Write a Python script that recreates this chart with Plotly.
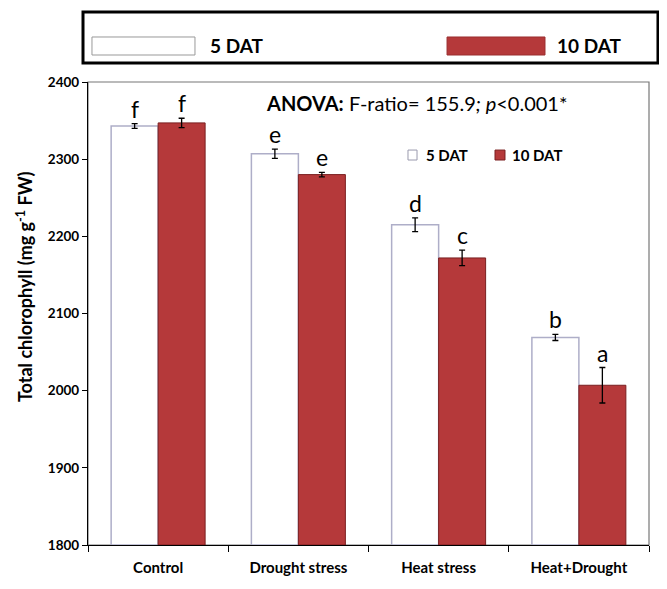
import plotly.graph_objects as go

categories = ["Control", "Drought stress", "Heat stress", "Heat+Drought"]
dat5 = [2343, 2307, 2215, 2069]
dat5_err = [3, 6, 9, 4]
dat10 = [2347, 2280, 2172, 2007]
dat10_err = [6, 3, 10, 23]
letters5 = ["f", "e", "d", "b"]
letters10 = ["f", "e", "c", "a"]
yticks = [1800, 1900, 2000, 2100, 2200, 2300, 2400]

FONT = "Lato"
RED = "#b5393a"

fig = go.Figure()
fig.add_trace(go.Bar(
    x=categories, y=[v - 1800 for v in dat5], base=1800, name="5 DAT",
    marker=dict(color="white", line=dict(color="#aeaec8", width=1.5)),
    error_y=dict(type="data", array=dat5_err, color="black", thickness=1.3, width=3),
))
fig.add_trace(go.Bar(
    x=categories, y=[v - 1800 for v in dat10], base=1800, name="10 DAT",
    marker=dict(color=RED, line=dict(color="#7a1f20", width=1)),
    error_y=dict(type="data", array=dat10_err, color="black", thickness=1.3, width=3),
))

# significance letters
for i, c in enumerate(categories):
    fig.add_annotation(x=c, y=dat5[i] + dat5_err[i], text=letters5[i], xref="x", yref="y",
                       xshift=-23.5, yshift=15, showarrow=False,
                       font=dict(family=FONT, size=23, color="black"))
    fig.add_annotation(x=c, y=dat10[i] + dat10_err[i], text=letters10[i], xref="x", yref="y",
                       xshift=23.5, yshift=15, showarrow=False,
                       font=dict(family=FONT, size=23, color="black"))

fig.add_annotation(x=0.585, y=0.955, xref="paper", yref="paper", showarrow=False,
                   xanchor="center", yanchor="middle",
                   text="<b>ANOVA:</b> F-ratio= 155.9<i>; p</i><0.001*",
                   font=dict(family=FONT, size=20, color="black"))

# y-axis title
fig.add_annotation(x=-0.1125, y=0.559, xref="paper", yref="paper", showarrow=False,
                   xanchor="center", yanchor="middle", textangle=-90,
                   text="<b>Total chlorophyll (mg g<sup>-1</sup> FW)</b>",
                   font=dict(family=FONT, size=18, color="black"))

# inner legend
fig.add_shape(type="rect", xref="paper", yref="paper", x0=0.5704, x1=0.5865, y0=0.8315, y1=0.853,
              line=dict(color="#9a9aae", width=1), fillcolor="white")
fig.add_shape(type="rect", xref="paper", yref="paper", x0=0.7255, x1=0.7433, y0=0.8315, y1=0.853,
              line=dict(color="#7a1f20", width=1), fillcolor=RED)
fig.add_annotation(x=0.599, y=0.842, xref="paper", yref="paper", showarrow=False,
                   xanchor="left", yanchor="middle", text="<b>5 DAT</b>",
                   font=dict(family=FONT, size=15, color="black"))
fig.add_annotation(x=0.752, y=0.842, xref="paper", yref="paper", showarrow=False,
                   xanchor="left", yanchor="middle", text="<b>10 DAT</b>",
                   font=dict(family=FONT, size=15, color="black"))

# plot frame (top/right gray)
fig.add_shape(type="rect", xref="paper", yref="paper", x0=0, x1=1, y0=0, y1=1,
              line=dict(color="#777777", width=1.2), layer="below")

# top legend box
fig.add_shape(type="rect", xref="paper", yref="paper", x0=-0.0089, x1=1.016, y0=1.041, y1=1.151,
              line=dict(color="black", width=3), fillcolor="white")
fig.add_shape(type="rect", xref="paper", yref="paper", x0=0.0071, x1=0.1907, y0=1.0583, y1=1.0972,
              line=dict(color="#999999", width=1), fillcolor="white")
fig.add_shape(type="rect", xref="paper", yref="paper", x0=0.64, x1=0.8146, y0=1.0583, y1=1.0972,
              line=dict(color="#9a2e2f", width=1), fillcolor=RED)
fig.add_annotation(x=0.2139, y=1.078, xref="paper", yref="paper", showarrow=False,
                   xanchor="left", yanchor="middle",
                   text="<b>5 DAT</b>", font=dict(family=FONT, size=19, color="black"))
fig.add_annotation(x=0.8324, y=1.078, xref="paper", yref="paper", showarrow=False,
                   xanchor="left", yanchor="middle",
                   text="<b>10 DAT</b>", font=dict(family=FONT, size=19, color="black"))

fig.update_layout(
    width=659, height=581,
    margin=dict(l=80, r=18, t=74, b=44),
    paper_bgcolor="white", plot_bgcolor="white",
    barmode="group", bargap=0.33, bargroupgap=0,
    font=dict(family=FONT, color="black"),
    showlegend=False,
    xaxis=dict(showline=True, linecolor="black", linewidth=1.2, ticks="outside",
               tickson="boundaries", ticklen=6, tickcolor="black", ticklabelstandoff=9,
               tickfont=dict(family=FONT, size=15, color="black", weight="bold"),
               showgrid=False),
    yaxis=dict(range=[1800, 2400], tickvals=yticks, showline=True, linecolor="black",
               linewidth=1.2, ticks="outside", ticklen=5, tickcolor="black",
               tickfont=dict(family=FONT, size=13.5, color="black", weight="bold"),
               showgrid=False, zeroline=False),
)

fig.write_html("out.html")
